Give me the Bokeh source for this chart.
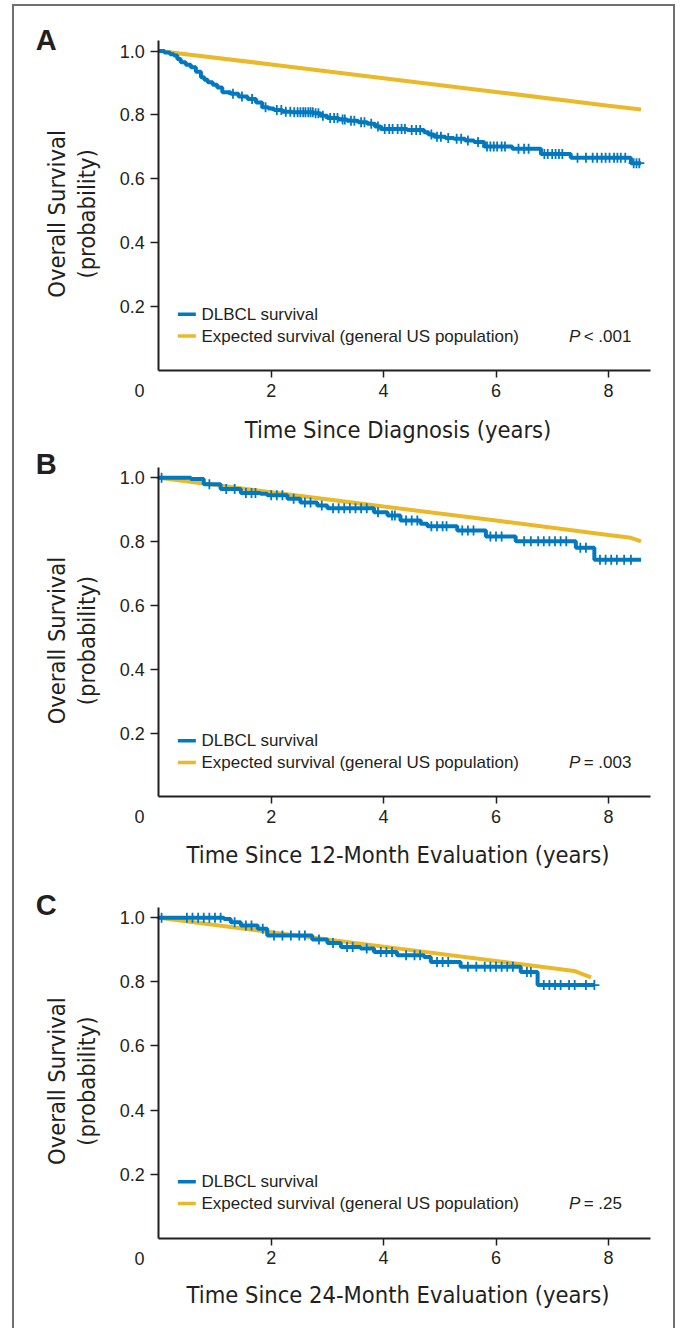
import numpy as np
from bokeh.plotting import figure
from bokeh.layouts import column
from bokeh.models import Range1d, FixedTicker, PrintfTickFormatter, Label
from bokeh.embed import file_html
from bokeh.resources import INLINE

# ---------------- data ----------------
# Panel A: time since diagnosis
A_time = [0, 0.1, 0.2, 0.27, 0.33, 0.39, 0.48, 0.57, 0.66, 0.75, 0.81, 0.87, 0.96, 1.04, 1.13,
          1.28, 1.42, 1.58, 1.73, 1.84, 1.95, 2.05, 2.2, 2.37, 2.76, 2.88, 3.0, 3.2, 3.35, 3.55,
          3.71, 3.85, 3.95, 4.42, 4.72, 4.8, 4.9, 5.1, 5.25, 5.45, 5.61, 5.79, 6.29, 6.8, 7.33,
          8.4, 8.58]
A_surv = [1.0, 0.995, 0.99, 0.986, 0.975, 0.965, 0.957, 0.949, 0.935, 0.918, 0.91, 0.902, 0.894,
          0.886, 0.871, 0.866, 0.858, 0.85, 0.839, 0.824, 0.82, 0.815, 0.81, 0.808, 0.805, 0.797,
          0.79, 0.786, 0.782, 0.777, 0.772, 0.764, 0.756, 0.753, 0.746, 0.739, 0.732, 0.728,
          0.725, 0.72, 0.715, 0.701, 0.694, 0.678, 0.666, 0.649, 0.649]
A_censor = [1.32, 1.48, 1.66, 1.9, 2.1, 2.18, 2.26, 2.34, 2.41, 2.47, 2.52, 2.57, 2.61, 2.66, 2.7,
            2.74, 2.79, 2.84, 2.92, 3.05, 3.12, 3.18, 3.27, 3.31, 3.42, 3.48, 3.6, 3.66, 3.78,
            3.9, 4.02, 4.1, 4.16, 4.25, 4.32, 4.38, 4.5, 4.58, 4.65, 4.85, 4.95, 5.02, 5.15, 5.3,
            5.38, 5.5, 5.68, 5.84, 5.9, 5.96, 6.02, 6.1, 6.16, 6.4, 6.5, 6.58, 6.86, 6.92, 7.0,
            7.06, 7.12, 7.18, 7.45, 7.6, 7.72, 7.8, 7.88, 7.95, 8.02, 8.1, 8.16, 8.22, 8.3, 8.45,
            8.5, 8.55]
A_exp_time = [0, 2, 4, 6, 8, 8.58]
A_exp_surv = [1.0, 0.958, 0.915, 0.872, 0.829, 0.817]

# Panel B: time since 12-month evaluation
B_time = [0, 0.57, 0.8, 1.1, 1.46, 1.81, 1.93, 2.29, 2.52, 2.82, 3.0, 3.83, 4.07, 4.3, 4.66,
          4.78, 5.31, 5.82, 6.35, 7.42, 7.75, 8.58]
B_surv = [1.0, 0.996, 0.98, 0.965, 0.952, 0.95, 0.945, 0.934, 0.923, 0.913, 0.905, 0.892, 0.882,
          0.866, 0.856, 0.848, 0.835, 0.816, 0.801, 0.781, 0.743, 0.743]
B_censor = [0.05, 0.9, 1.2, 1.35, 1.55, 1.65, 1.72, 2.0, 2.1, 2.2, 2.4, 2.6, 2.7, 2.9, 3.1, 3.2,
            3.3, 3.4, 3.5, 3.6, 3.7, 3.9, 4.15, 4.2, 4.4, 4.5, 4.6, 4.85, 4.95, 5.05, 5.12, 5.4,
            5.5, 5.6, 5.9, 6.0, 6.1, 6.5, 6.62, 6.75, 6.85, 6.95, 7.05, 7.15, 7.25, 7.5, 7.6,
            7.85, 7.95, 8.05, 8.15, 8.28, 8.4]
B_exp_time = [0, 2, 4, 6, 8, 8.4, 8.58]
B_exp_surv = [1.0, 0.955, 0.91, 0.866, 0.821, 0.812, 0.801]

# Panel C: time since 24-month evaluation
C_time = [0, 1.16, 1.28, 1.46, 1.76, 1.93, 2.73, 3.0, 3.24, 3.59, 3.83, 4.24, 4.72, 4.84, 5.37,
          6.44, 6.74, 7.75]
C_surv = [1.0, 0.996, 0.986, 0.976, 0.966, 0.945, 0.932, 0.921, 0.909, 0.904, 0.893, 0.883,
          0.878, 0.862, 0.847, 0.831, 0.79, 0.79]
C_censor = [0.05, 0.5, 0.6, 0.7, 0.8, 0.9, 1.0, 1.1, 1.35, 1.55, 1.65, 1.85, 2.05, 2.2, 2.35,
            2.5, 2.6, 2.85, 3.1, 3.35, 3.45, 3.7, 3.95, 4.05, 4.15, 4.4, 4.55, 4.65, 4.95, 5.05,
            5.15, 5.5, 5.65, 5.8, 5.9, 6.0, 6.1, 6.2, 6.3, 6.55, 6.62, 6.85, 6.95, 7.05, 7.15,
            7.3, 7.4, 7.6, 7.75]
C_exp_time = [0, 2, 4, 6, 7.39, 7.69]
C_exp_surv = [1.0, 0.955, 0.91, 0.865, 0.834, 0.814]

y_ticks = [0.2, 0.4, 0.6, 0.8, 1.0]
x_ticks = [2, 4, 6, 8]
legend_labels = ["DLBCL survival", "Expected survival (general US population)"]
p_values = ["< .001", "= .003", "= .25"]
x_titles = ["Time Since Diagnosis (years)",
            "Time Since 12-Month Evaluation (years)",
            "Time Since 24-Month Evaluation (years)"]
y_title = ["Overall Survival", "(probability)"]
panel_letters = ["A", "B", "C"]

# ---------------- style ----------------
BLUE = "#0079c1"
GOLD = "#ebb82a"
INK = "#231f20"
NARROW = "'DejaVu Sans Condensed', 'Liberation Sans Narrow', sans-serif"
SANS = "'Liberation Sans', Arial, sans-serif"
TITLE_SIZE = "23.5px"

X_LO, X_HI = -2.567, 9.158      # whole figure width mapped to data (axis at x=0)
X_AXIS_END = 8.74


def make_panel(idx, t, s, cens, et, es, height, y_lo, y_hi, y_axis_top, xlab_y, letter_y):
    p = figure(width=659, height=height, output_backend="svg", toolbar_location=None,
               x_range=Range1d(X_LO, X_HI), y_range=Range1d(y_lo, y_hi),
               min_border=0, min_border_left=0, min_border_right=0,
               min_border_top=0, min_border_bottom=0)
    p.background_fill_color = "white"
    p.border_fill_color = "white"
    p.outline_line_color = None
    p.grid.visible = False

    xa = p.xaxis[0]
    ya = p.yaxis[0]
    xa.fixed_location = 0
    ya.fixed_location = 0
    xa.bounds = (0, X_AXIS_END)
    ya.bounds = (0, y_axis_top)
    for ax in (xa, ya):
        ax.axis_line_color = INK
        ax.axis_line_width = 2
        ax.major_tick_line_color = INK
        ax.major_tick_line_width = 1.5
        ax.minor_tick_line_color = None
        ax.major_tick_in = 0
        ax.major_label_text_color = INK
        ax.major_label_text_font = SANS
        ax.major_label_text_font_size = "18px"

    xa.ticker = FixedTicker(ticks=x_ticks)
    xa.major_tick_out = 7
    xa.major_label_standoff = 6
    ya.ticker = FixedTicker(ticks=y_ticks)
    ya.formatter = PrintfTickFormatter(format="%.1f")
    ya.major_tick_out = 8
    ya.major_label_standoff = 6

    # expected survival
    p.line(et, es, line_color=GOLD, line_width=4)
    # Kaplan-Meier curve with censor marks
    p.step(t, s, mode="after", line_color=BLUE, line_width=4)
    ta = np.asarray(t)
    sa = np.asarray(s)
    ca = np.asarray(cens)
    cy = sa[np.searchsorted(ta, ca, side="right") - 1]
    p.scatter(ca, cy, marker="cross", size=10, line_color=BLUE, line_width=1.8)

    # legend
    p.line([0.34, 0.66], [0.176, 0.176], line_color=BLUE, line_width=3.5)
    p.line([0.34, 0.66], [0.108, 0.108], line_color=GOLD, line_width=3.5)
    for yy, txt in zip([0.176, 0.108], legend_labels):
        p.add_layout(Label(x=0.76, y=yy, text=txt, text_font=SANS, text_font_size="17px",
                           text_color=INK, text_baseline="middle", text_align="left"))
    p.add_layout(Label(x=7.3, y=0.108, text="P", text_font=SANS, text_font_style="italic",
                       text_font_size="17px", text_color=INK, text_baseline="middle"))
    p.add_layout(Label(x=7.56, y=0.108, text=p_values[idx], text_font=SANS,
                       text_font_size="17px", text_color=INK, text_baseline="middle"))

    # origin label, titles, panel letter (anchors are visible centres)
    p.add_layout(Label(x=-0.343, y=-0.062, text="0", text_font=SANS, text_font_size="18px",
                       text_color=INK, text_align="center", text_baseline="middle"))
    p.add_layout(Label(x=4.257, y=xlab_y, text=x_titles[idx], text_font=NARROW,
                       text_font_size=TITLE_SIZE, text_color=INK, text_align="center",
                       text_baseline="middle"))
    p.add_layout(Label(x=-1.819, y=0.49, text=y_title[0], angle=np.pi / 2,
                       text_font=NARROW, text_font_size=TITLE_SIZE, text_color=INK,
                       text_align="center", text_baseline="middle"))
    p.add_layout(Label(x=-1.277, y=0.49, text=y_title[1], angle=np.pi / 2,
                       text_font=NARROW, text_font_size=TITLE_SIZE, text_color=INK,
                       text_align="center", text_baseline="middle"))
    p.add_layout(Label(x=-2.19, y=letter_y, text=panel_letters[idx], text_font=SANS,
                       text_font_style="bold", text_font_size="29px", text_color=INK,
                       text_align="left", text_baseline="middle"))
    return p


pA = make_panel(0, A_time, A_surv, A_censor, A_exp_time, A_exp_surv,
                439, -0.2347, 1.1393, 1.033, -0.185, 1.036)
pB = make_panel(1, B_time, B_surv, B_censor, B_exp_time, B_exp_surv,
                441, -0.2804, 1.1012, 1.032, -0.183, 1.042)
pC = make_panel(2, C_time, C_surv, C_censor, C_exp_time, C_exp_surv,
                442, -0.2818, 1.0977, 1.032, -0.176, 1.040)

layout = column(pA, pB, pC, spacing=0, margin=(6, 8, 0, 14),
                styles={"outline": "2px solid #707070"})

open("out.html", "w").write(file_html(layout, INLINE))
